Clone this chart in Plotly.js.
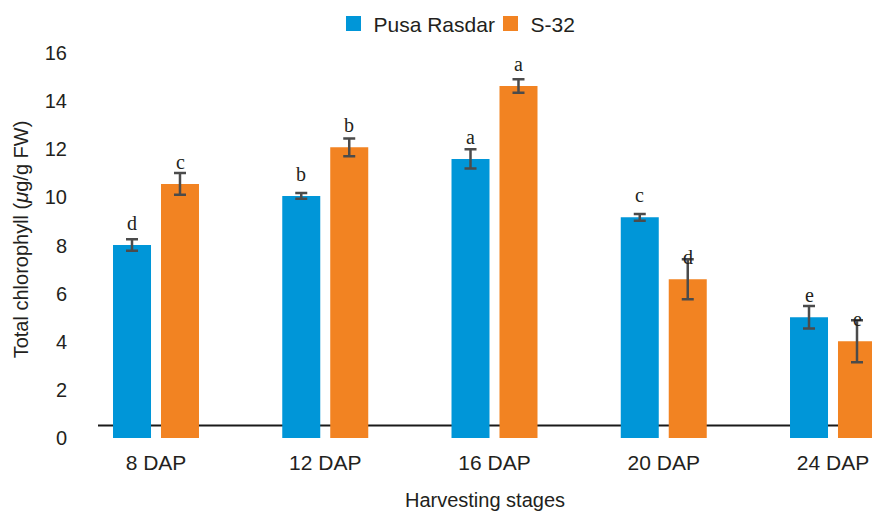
<!DOCTYPE html>
<html>
<head>
<meta charset="utf-8">
<script src="https://cdn.plot.ly/plotly-3.0.1.min.js"></script>
<style>html,body{margin:0;padding:0;background:#fff;}#chart{width:872px;height:511px;}</style>
</head>
<body>
<div id="chart"></div>
<script>
const categories = ["8 DAP", "12 DAP", "16 DAP", "20 DAP", "24 DAP"];
const seriesNames = ["Pusa Rasdar", "S-32"];
const pusaValues = [8.02, 10.06, 11.6, 9.17, 5.02];
const pusaErrors = [0.24, 0.12, 0.4, 0.14, 0.47];
const pusaLetters = ["d", "b", "a", "c", "e"];
const s32Values = [10.56, 12.08, 14.63, 6.6, 4.02];
const s32Errors = [0.45, 0.37, 0.28, 0.83, 0.87];
const s32Letters = ["c", "b", "a", "d", "e"];
const yTicks = [0, 2, 4, 6, 8, 10, 12, 14, 16];

const blue = "#0096D8";
const orange = "#F28322";
const errColor = "#4B4B4B";
const textColor = "#231F20";

const errStyle = {type: "data", visible: true, thickness: 2.5, width: 6, color: errColor};

const traces = [
  {type: "bar", name: seriesNames[0], x: categories, y: pusaValues, showlegend: false,
   marker: {color: blue},
   error_y: Object.assign({array: pusaErrors}, errStyle)},
  {type: "bar", name: seriesNames[1], x: categories, y: s32Values, showlegend: false,
   marker: {color: orange},
   error_y: Object.assign({array: s32Errors}, errStyle)},
  {type: "scatter", mode: "markers", name: seriesNames[0], x: [null], y: [null],
   marker: {symbol: "square", size: 15, color: blue}, showlegend: true},
  {type: "scatter", mode: "markers", name: seriesNames[1], x: [null], y: [null],
   marker: {symbol: "square", size: 15, color: orange}, showlegend: true}
];

const annotations = [];
categories.forEach((c, i) => {
  annotations.push({x: c, y: pusaValues[i], xref: "x", yref: "y", text: pusaLetters[i],
    showarrow: false, xshift: -24, yshift: 22, yanchor: "middle",
    font: {family: "Liberation Serif, Times New Roman, serif", size: 20, color: textColor}});
  annotations.push({x: c, y: s32Values[i], xref: "x", yref: "y", text: s32Letters[i],
    showarrow: false, xshift: 24, yshift: 22, yanchor: "middle",
    font: {family: "Liberation Serif, Times New Roman, serif", size: 20, color: textColor}});
});

const layout = {
  width: 872, height: 511,
  margin: {l: 98, r: 0, t: 41, b: 73},
  paper_bgcolor: "#fff", plot_bgcolor: "#fff",
  font: {family: "Liberation Sans, Arial, sans-serif", size: 20, color: textColor},
  barmode: "group", bargap: 0.433, bargroupgap: 0.208,
  showlegend: true,
  legend: {orientation: "h", x: 0.5071, xanchor: "center", y: 1.043, yanchor: "middle",
    font: {size: 21, color: textColor}, itemclick: false, traceorder: "normal",
    itemwidth: 30, entrywidth: 112},
  xaxis: {range: [-0.3427, 4.2304], showline: false, ticks: "", showgrid: false, zeroline: false,
    tickfont: {size: 21}, ticklabelstandoff: 10,
    title: {text: "Harvesting stages", font: {size: 20}, standoff: 20}},
  yaxis: {range: [0, 16.5], tickvals: yTicks, showline: false, ticks: "", showgrid: false, zeroline: false,
    tickfont: {size: 20}, ticklabelstandoff: 30,
    title: {text: "Total chlorophyll (<i>μ</i>g/g FW)", font: {size: 20}, standoff: 10}},
  shapes: [{type: "line", xref: "paper", x0: 0, x1: 1, yref: "y", y0: 0.52, y1: 0.52,
    line: {color: "#1A1A1A", width: 2}, layer: "below"}],
  annotations: annotations
};

Plotly.newPlot("chart", traces, layout, {displayModeBar: false, staticPlot: true});
</script>
</body>
</html>
